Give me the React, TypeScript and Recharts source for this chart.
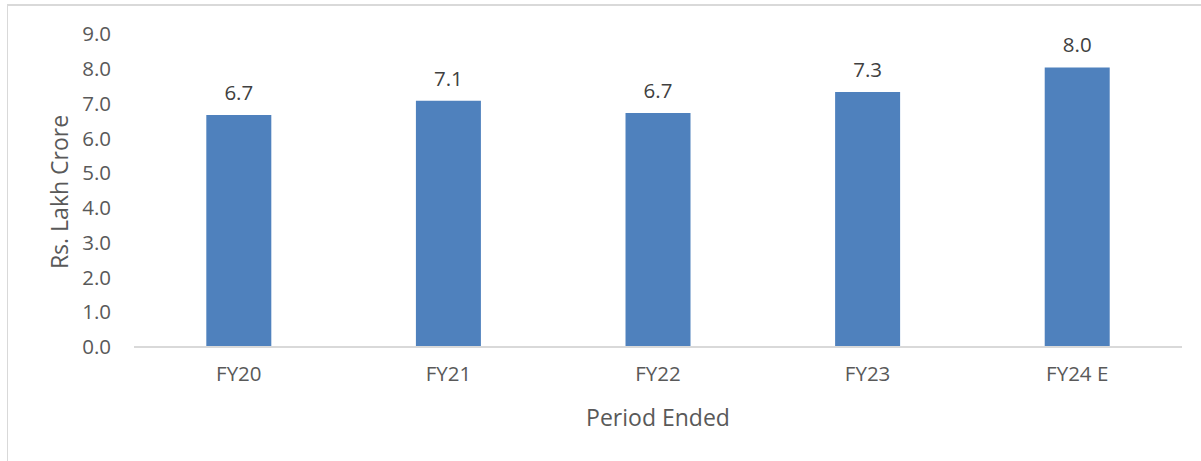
import React from 'react';
import { BarChart, Bar, XAxis, YAxis, LabelList, Label } from 'recharts';

const categories = ['FY20', 'FY21', 'FY22', 'FY23', 'FY24 E'];
const values = [6.67, 7.08, 6.73, 7.33, 8.04];
const valueLabels = ['6.7', '7.1', '6.7', '7.3', '8.0'];
const yTicks = [0, 1, 2, 3, 4, 5, 6, 7, 8, 9];

const data = categories.map((c, i) => ({ name: c, value: values[i], label: valueLabels[i] }));

const FONT = '"Open Sans", Lato, sans-serif';
const TXT = '#595959';

export default function App() {
  return (
    <div style={{ position: 'absolute', left: 0, top: 0, width: 1201, height: 461, background: '#fff', overflow: 'hidden' }}>
      <div style={{ position: 'absolute', left: 7, top: 4, width: 1300, height: 600, borderLeft: '1px solid #d9d9d9', borderTop: '2px solid #d9d9d9' }} />
      <div style={{ position: 'absolute', left: 0, top: 0 }}>
        <BarChart width={1201} height={461} data={data} margin={{ top: 34, right: 19, bottom: 84, left: 0 }} barCategoryGap="34.5%">
          <XAxis
            dataKey="name"
            axisLine={{ stroke: '#d9d9d9', strokeWidth: 2 }}
            tickLine={false}
            height={30}
            tick={{ fill: TXT, fontSize: 20.5, fontFamily: FONT }}
            tickMargin={13}
          >
            <Label
              content={() => (
                <text x={658} y={417} textAnchor="middle" dominantBaseline="central" fill={TXT} fontSize={23} fontFamily={FONT}>
                  Period Ended
                </text>
              )}
            />
          </XAxis>
          <YAxis
            width={134}
            domain={[0, 9]}
            ticks={yTicks}
            interval={0}
            axisLine={false}
            tickLine={false}
            tickSize={6}
            tickMargin={17}
            tickFormatter={(v: number) => v.toFixed(1)}
            tick={{ fill: TXT, fontSize: 20.5, fontFamily: FONT }}
          >
            <Label
              content={() => (
                <text x={59} y={192} transform="rotate(-90, 59, 192)" textAnchor="middle" dominantBaseline="central" fill={TXT} fontSize={23} fontFamily={FONT}>
                  Rs. Lakh Crore
                </text>
              )}
            />
          </YAxis>
          <Bar dataKey="value" fill="#4f81bd" isAnimationActive={false}>
            <LabelList dataKey="label" position="top" offset={15} fill="#404040" fontSize={20.5} fontFamily={FONT} />
          </Bar>
        </BarChart>
      </div>
    </div>
  );
}
